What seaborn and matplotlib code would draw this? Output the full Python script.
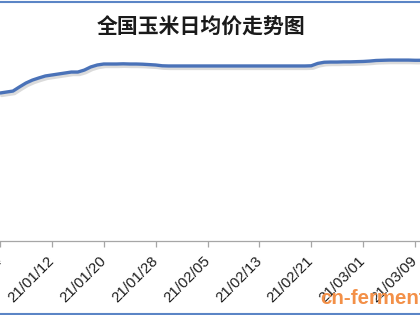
import matplotlib
matplotlib.use("Agg")
import matplotlib.pyplot as plt
import matplotlib.patheffects as pe
from matplotlib.lines import Line2D
import seaborn as sns
import pandas as pd

# ---- data ----
start_date = "2021-01-04"
end_date = "2021-03-10"
prices = [
    2755, 2760, 2765, 2786, 2806, 2821, 2832, 2842, 2847, 2852,   # Jan 4-13
    2857, 2862, 2862, 2872, 2888, 2898, 2903, 2903, 2903, 2904,   # Jan 14-23
    2903, 2903, 2902, 2900, 2898, 2894, 2893, 2893,               # Jan 24-31
    2893, 2893, 2893, 2893, 2893, 2893, 2893, 2893, 2893, 2893,   # Feb 1-10
    2893, 2893, 2893, 2893, 2893, 2893, 2893, 2893, 2893, 2893,   # Feb 11-20
    2894, 2906, 2912, 2913, 2913, 2914, 2914, 2915,               # Feb 21-28
    2916, 2918, 2921, 2922, 2923, 2923, 2923, 2923, 2922, 2922,   # Mar 1-10
]
tick_dates = ["2021-01-04", "2021-01-12", "2021-01-20", "2021-01-28", "2021-02-05",
              "2021-02-13", "2021-02-21", "2021-03-01", "2021-03-09"]
tick_labels = ["21/01/04", "21/01/12", "21/01/20", "21/01/28", "21/02/05",
               "21/02/13", "21/02/21", "21/03/01", "21/03/09"]
title = "全国玉米日均价走势图"
watermark = "cn-ferment.com"

sns.set_theme(style="white")
plt.rcParams['font.family'] = ['Noto Sans CJK SC', 'DejaVu Sans']

W, H = 420, 315
fig = plt.figure(figsize=(W / 100, H / 100), dpi=100)
fig.patch.set_facecolor("white")

# watermark drawn first so tick labels sit on top of it
fig.text(320 / W, 1 - 298 / H, watermark, ha="left", va="center", fontsize=14.8,
         fontweight="bold", color="#F39048", family="Liberation Sans", zorder=0)

ax = fig.add_axes([0, 74 / H, 1, 196 / H])
ax.set_facecolor("none")

df = pd.DataFrame({"date": pd.date_range(start_date, end_date), "price": prices})
sns.lineplot(data=df, x="date", y="price", ax=ax, color="#4A72B8", linewidth=2.4,
             path_effects=[pe.SimpleLineShadow(offset=(1.2, -1.8), shadow_color="#9a9a9a", alpha=0.35),
                           pe.Normal()])

ax.set_ylim(2000, 3000)
ax.set_xlim(pd.Timestamp("2021-01-12") - pd.Timedelta(days=7.67),
            pd.Timestamp("2021-03-09") + pd.Timedelta(days=0.77))
ax.set_xticks(pd.to_datetime(tick_dates))
ax.set_xticklabels(tick_labels, rotation=45, ha="right", va="center", rotation_mode="anchor",
                   fontsize=10.8, family="Liberation Sans", color="#1e1e1e")
ax.set_yticks([])
ax.set_xlabel("")
ax.set_ylabel("")
for s in ["left", "right", "top"]:
    ax.spines[s].set_visible(False)
ax.spines["bottom"].set_color("#a6a6a6")
ax.spines["bottom"].set_linewidth(0.9)
ax.tick_params(axis="x", bottom=True, direction="out", length=4, width=0.9,
               color="#a6a6a6", pad=9)

fig.text(201 / W, 1 - 27 / H, title, ha="center", va="center", fontsize=15,
         fontweight="bold", color="#1a1a1a")

fig.add_artist(Line2D([0, 1], [1 - 1.5 / H] * 2, color="#5B85C6", lw=1.5))
fig.add_artist(Line2D([0, 1], [1.5 / H] * 2, color="#5B85C6", lw=1.5))

fig.savefig("out.png", dpi=100)
